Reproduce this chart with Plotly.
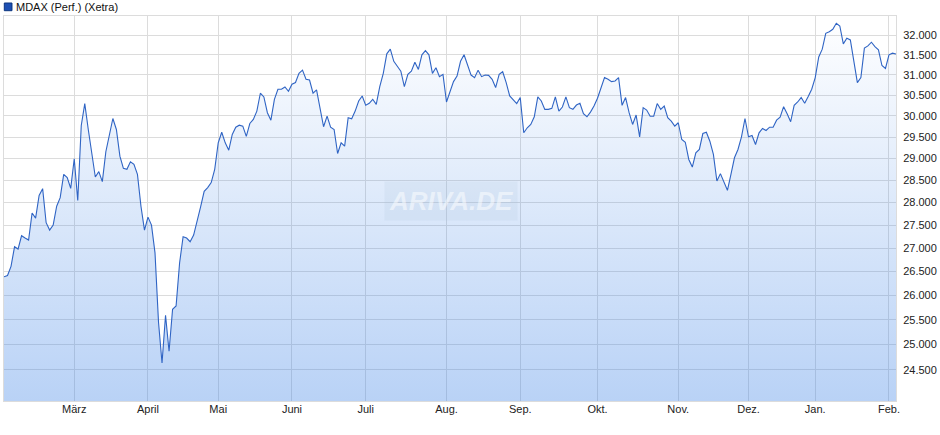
import math
import pandas as pd
import plotly.graph_objects as go

# ---------------- data ----------------
START = "2025-02-03"
END = "2026-02-04"
HOLIDAYS = ["2025-04-18", "2025-04-21", "2025-05-01", "2025-12-24",
            "2025-12-25", "2025-12-26", "2025-12-31", "2026-01-01"]

FEB_2025 = [26390, 26417, 26610, 27028, 26979, 27267, 27217, 27174, 27766, 27652,
            28159, 28311, 27552, 27391, 27500, 27916, 28107, 28636, 28561, 28318]
MAR_2025 = [28993, 28045, 29774, 30298, 29679, 29093, 28575, 28698, 28470, 29156,
            29560, 29940, 29679, 29053, 28773, 28750, 28925, 28864, 28636, 27916, 27391]
APR_2025 = [27675, 27500, 26896, 25449, 24634, 25592, 24866, 25714, 25782, 26681,
            27246, 27217, 27137, 27283, 27568, 27909, 28250, 28334, 28448, 28750]
MAY_2025 = [29365, 29614, 29365, 29193, 29560, 29733, 29781, 29757, 29517, 29821,
            29917, 30117, 30549, 30459, 30078, 29900, 30402, 30646, 30646, 30702, 30598]
JUN_2025 = [30768, 30810, 31037, 31117, 30890, 30873, 30549, 30629, 30159, 29743,
            29995, 29733, 29679, 29116, 29365, 29286, 29957, 29933, 30117, 30361, 30483]
JUL_2025 = [30256, 30305, 30402, 30280, 30712, 31037, 31525, 31642, 31337, 31215,
            31093, 30712, 31012, 31093, 31312, 31134, 31500, 31607, 31500, 31037,
            31176, 30956, 31012]
AUG_2025 = [30337, 30566, 30834, 30971, 31337, 31500, 31256, 30995, 30932, 31117,
            30956, 30995, 30988, 30890, 30688, 31012, 31078, 30810, 30483, 30378, 30298]
SEP_2025 = [30444, 29600, 29719, 29798, 29981, 30459, 30361, 30159, 30159, 30183,
            30459, 30117, 30215, 30459, 30200, 30159, 30263, 30305, 30054, 29981,
            30093, 30239]
OCT_2025 = [30427, 30688, 30932, 30890, 30834, 30849, 30932, 30256, 30444, 30078,
            29798, 30022, 29505, 30200, 30141, 29995, 29995, 30298, 30159, 30239,
            29957, 29876, 29757]
NOV_2025 = [29838, 29442, 29379, 28977, 28802, 29133, 29209, 29583, 29614, 29402,
            29093, 28484, 28652, 28461, 28273, 28636, 29016, 29209, 29505, 29940]
DEC_2025 = [29505, 29536, 29326, 29600, 29702, 29655, 29733, 29733, 29900, 29971,
            30224, 30054, 29862, 30256, 30337, 30444, 30305, 30468, 30646]
JAN_2026 = [30932, 31444, 31642, 32044, 32085, 32147, 32302, 32232, 31775, 31918,
            31875, 31378, 30810, 30932, 31668, 31725, 31818, 31708, 31625, 31232, 31159]
FEB_2026 = [31500, 31542, 31518]

MONTH_TICKS = ["2025-03-03", "2025-04-01", "2025-05-02", "2025-06-02", "2025-07-01",
               "2025-08-01", "2025-09-01", "2025-10-01", "2025-11-03", "2025-12-01",
               "2026-01-02", "2026-02-02"]
MONTH_LABELS = ["März", "April", "Mai", "Juni", "Juli", "Aug.", "Sep.", "Okt.",
                "Nov.", "Dez.", "Jan.", "Feb."]
Y_TICKS = [24500, 25000, 25500, 26000, 26500, 27000, 27500, 28000,
           28500, 29000, 29500, 30000, 30500, 31000, 31500, 32000]
Y_MIN, Y_MAX = 23900, 32490
SERIES_NAME = "MDAX (Perf.) (Xetra)"

# ---------------- build ----------------
values = (FEB_2025 + MAR_2025 + APR_2025 + MAY_2025 + JUN_2025 + JUL_2025 + AUG_2025
          + SEP_2025 + OCT_2025 + NOV_2025 + DEC_2025 + JAN_2026 + FEB_2026)
dates = [d for d in pd.bdate_range(START, END) if d.strftime("%Y-%m-%d") not in HOLIDAYS]
assert len(dates) == len(values), (len(dates), len(values))

FONT = "Liberation Sans, Arial, sans-serif"
LINE = "#2f64c4"
GRID = "#dcdcdc"

fig = go.Figure()
fig.add_trace(go.Scatter(x=dates, y=[Y_MIN * 0.8] * len(dates), mode="lines",
                         line=dict(width=0), hoverinfo="skip", showlegend=False))
fig.add_trace(go.Scatter(
    x=dates, y=values, mode="lines", name=SERIES_NAME,
    line=dict(color=LINE, width=1.1),
    fill="tonexty",
    fillgradient=dict(type="vertical", start=Y_MIN, stop=Y_MAX,
                      colorscale=[[0, "rgba(60,130,230,0.36)"],
                                  [1, "rgba(60,130,230,0.0)"]]),
    showlegend=False,
))

L, R, T, B = 3, 43, 16, 34
W, H = 940, 435
pw, ph = W - L - R, H - T - B

fig.update_layout(
    width=W, height=H,
    margin=dict(l=L, r=R, t=T, b=B, pad=0),
    paper_bgcolor="white", plot_bgcolor="white",
    font=dict(family=FONT, size=11, color="#222222"),
    separators=",.",
    showlegend=False,
    hovermode=False,
    xaxis=dict(
        type="date",
        range=[dates[0], dates[-1]],
        rangebreaks=[dict(bounds=["sat", "mon"]), dict(values=HOLIDAYS)],
        tickvals=MONTH_TICKS, ticktext=MONTH_LABELS,
        showgrid=True, gridcolor=GRID, gridwidth=1,
        showline=True, linecolor=GRID, linewidth=1, mirror=True,
        ticks="", zeroline=False,
        ticklabelstandoff=-2,
        tickfont=dict(family=FONT, size=11, color="#222222"),
    ),
    yaxis=dict(
        type="log", side="right",
        range=[math.log10(Y_MIN), math.log10(Y_MAX)],
        tickvals=Y_TICKS,
        ticktext=[f"{v:,}".replace(",", ".") for v in Y_TICKS],
        showgrid=True, gridcolor=GRID, gridwidth=1,
        showline=True, linecolor=GRID, linewidth=1, mirror=True,
        ticks="", zeroline=False,
        ticklabelstandoff=4,
        tickfont=dict(family=FONT, size=11, color="#222222"),
    ),
)

# legend marker + label (top-left)
fig.add_shape(type="rect", xref="paper", yref="paper",
              x0=0.3 / pw, x1=8.0 / pw, y0=1 + 5.3 / ph, y1=1 + 13.0 / ph,
              fillcolor="#1d4fb3", line=dict(color="#0d357f", width=1))
fig.add_annotation(text=SERIES_NAME, xref="paper", yref="paper",
                   x=10.5 / pw, y=1 + 9.0 / ph, xanchor="left", yanchor="middle",
                   showarrow=False, font=dict(family=FONT, size=11, color="#111111"))

# watermark
fig.add_annotation(text="<b><i>ARIVA.DE</i></b>", xref="paper", yref="paper",
                   x=(451 - L) / pw, y=(H - B - 201) / ph, xanchor="center", yanchor="middle",
                   showarrow=False, bgcolor="rgba(170,190,220,0.16)", borderpad=4,
                   font=dict(family=FONT, size=26, color="rgba(255,255,255,0.5)"))

fig.write_html("out.html",
               config={"displayModeBar": False},
               post_script="document.body.style.margin='0';document.body.style.padding='0';")
